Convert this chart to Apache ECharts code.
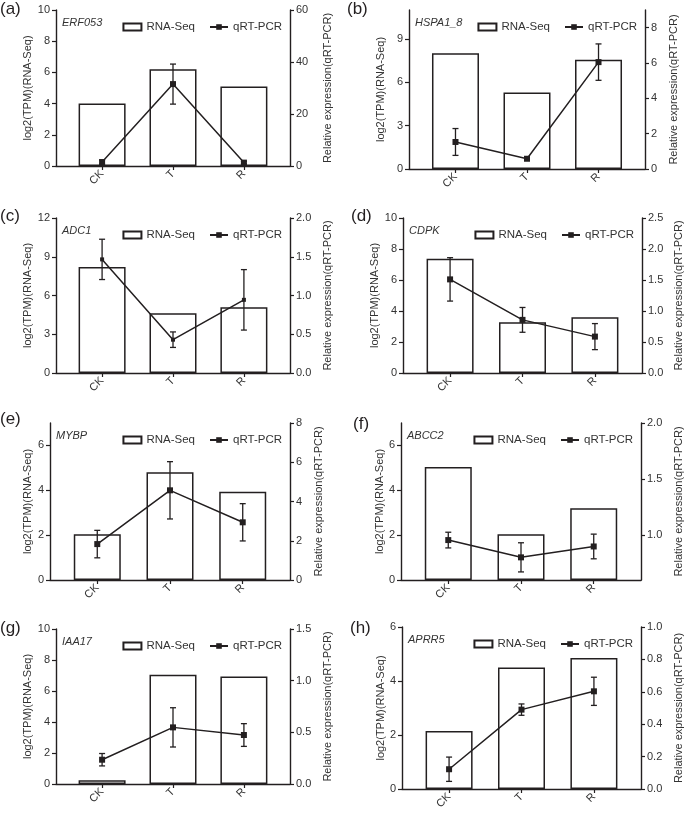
<!DOCTYPE html>
<html>
<head>
<meta charset="utf-8">
<script src="https://cdn.jsdelivr.net/npm/echarts@6.0.0/dist/echarts.min.js"></script>
<style>
html,body{margin:0;padding:0;background:#fff;}
#chart{width:685px;height:813px;}
</style>
</head>
<body>
<div id="chart"></div>
<script>
// ---------- data ----------
const categories = ['CK', 'T', 'R'];
const genes = ['ERF053', 'HSPA1_8', 'ADC1', 'CDPK', 'MYBP', 'ABCC2', 'IAA17', 'APRR5'];
const panelLabels = ['(a)', '(b)', '(c)', '(d)', '(e)', '(f)', '(g)', '(h)'];

// RNA-Seq values (log2 TPM)
const rnaERF053 = [4.0, 6.2, 5.1];
const rnaHSPA1_8 = [8.0, 5.3, 7.55];
const rnaADC1 = [8.2, 4.63, 5.09];
const rnaCDPK = [7.37, 3.28, 3.6];
const rnaMYBP = [2.04, 4.8, 3.94];
const rnaABCC2 = [5.04, 2.04, 3.2];
const rnaIAA17 = [0.24, 7.05, 6.94];
const rnaAPRR5 = [2.15, 4.5, 4.85];

// qRT-PCR relative expression (mean)
const qpcrERF053 = [1.5, 31.5, 1.3];
const qpcrHSPA1_8 = [1.53, 0.58, 6.05];
const qpcrADC1 = [1.466, 0.43, 0.944];
const qpcrCDPK = [1.51, 0.857, 0.587];
const qpcrMYBP = [1.83, 4.57, 2.94];
const qpcrABCC2 = [0.956, 0.802, 0.899];
const qpcrIAA17 = [0.235, 0.548, 0.474];
const qpcrAPRR5 = [0.122, 0.49, 0.603];

// qRT-PCR error (half-length of error bar)
const errERF053 = [0.8, 7.7, 0.5];
const errHSPA1_8 = [0.76, 0.05, 1.03];
const errADC1 = [0.26, 0.1, 0.39];
const errCDPK = [0.35, 0.2, 0.21];
const errMYBP = [0.7, 1.46, 0.95];
const errABCC2 = [0.07, 0.13, 0.11];
const errIAA17 = [0.06, 0.19, 0.11];
const errAPRR5 = [0.075, 0.035, 0.087];

// axis ranges and tick labels
const leftMax = [10, 11, 12, 10, 7, 7, 10, 6];
const leftTicks = [[0,2,4,6,8,10],[0,3,6,9],[0,3,6,9,12],[0,2,4,6,8,10],[0,2,4,6],[0,2,4,6],[0,2,4,6,8,10],[0,2,4,6]];
const rightMin = [0, 0, 0, 0, 0, 0.6, 0, 0];
const rightMax = [60, 9, 2.0, 2.5, 8, 2.0, 1.5, 1.0];
const rightTicks = [[0,20,40,60],[0,2,4,6,8],[0,0.5,1,1.5,2],[0,0.5,1,1.5,2,2.5],[0,2,4,6,8],[1,1.5,2],[0,0.5,1,1.5],[0,0.2,0.4,0.6,0.8,1]];
const rightDecimals = [0, 0, 1, 1, 0, 1, 1, 1];

const rnaAll = [rnaERF053, rnaHSPA1_8, rnaADC1, rnaCDPK, rnaMYBP, rnaABCC2, rnaIAA17, rnaAPRR5];
const qpcrAll = [qpcrERF053, qpcrHSPA1_8, qpcrADC1, qpcrCDPK, qpcrMYBP, qpcrABCC2, qpcrIAA17, qpcrAPRR5];
const errAll = [errERF053, errHSPA1_8, errADC1, errCDPK, errMYBP, errABCC2, errIAA17, errAPRR5];

// ---------- layout ----------
const layout = [
  {l:56, t:10, w:234, h:156},
  {l:409, t:10, w:236, h:159},
  {l:56, t:218, w:234, h:155},
  {l:403, t:218, w:239, h:155},
  {l:50, t:423, w:240, h:157},
  {l:401, t:423, w:240, h:157},
  {l:56, t:629, w:234, h:155},
  {l:402, t:627, w:239, h:162}
];
const leftNameGap = [23, 23, 23, 18, 17, 15, 23, 16];
const rightNameGap = [32, 23, 32, 31, 23, 32, 32, 32];
const labelPos = [[0,1],[347,1],[0,208],[351,208],[0,411],[353,416],[0,620],[350,620]];

const INK = '#231f20';
const FONT = 'Liberation Sans, Arial, Helvetica, sans-serif';
const TXT = '#333';

const grid = [], xAxis = [], yAxis = [], series = [], legend = [], title = [], graphic = [];

function errRender(params, api) {
  const x = api.value(0), y = api.value(1), e = api.value(2);
  const top = api.coord([x, y + e]);
  const bot = api.coord([x, y - e]);
  const hw = 3;
  const st = {stroke: INK, lineWidth: 1.3};
  return {type: 'group', children: [
    {type: 'line', shape: {x1: top[0], y1: top[1], x2: bot[0], y2: bot[1]}, style: st},
    {type: 'line', shape: {x1: top[0] - hw, y1: top[1], x2: top[0] + hw, y2: top[1]}, style: st},
    {type: 'line', shape: {x1: bot[0] - hw, y1: bot[1], x2: bot[0] + hw, y2: bot[1]}, style: st}
  ]};
}

for (let i = 0; i < 8; i++) {
  const L = layout[i];
  grid.push({left: L.l, top: L.t, width: L.w, height: L.h, containLabel: false});
  xAxis.push({
    type: 'value', gridIndex: i, min: -0.65, max: 2.65,
    axisLine: {show: true, onZero: false, lineStyle: {color: INK, width: 1.4}},
    axisTick: {show: true, length: 4, customValues: [0, 1, 2], lineStyle: {color: INK, width: 1.2}},
    axisLabel: {show: true, customValues: [0, 1, 2], rotate: 45, margin: 6,
      formatter: v => categories[Math.round(v)] || '', color: TXT, fontSize: 11, fontFamily: FONT},
    splitLine: {show: false}
  });
  yAxis.push({
    type: 'value', gridIndex: i, position: 'left', min: 0, max: leftMax[i],
    name: 'log2(TPM)(RNA-Seq)', nameLocation: 'middle', nameRotate: 90, nameGap: leftNameGap[i],
    nameTextStyle: {color: TXT, fontSize: 11, fontFamily: FONT},
    axisLine: {show: true, onZero: false, lineStyle: {color: INK, width: 1.4}},
    axisTick: {show: true, length: 4, customValues: leftTicks[i], lineStyle: {color: INK, width: 1.2}},
    axisLabel: {customValues: leftTicks[i], margin: 6, color: TXT, fontSize: 11, fontFamily: FONT},
    splitLine: {show: false}
  });
  const dec = rightDecimals[i];
  yAxis.push({
    type: 'value', gridIndex: i, position: 'right', min: rightMin[i], max: rightMax[i],
    name: 'Relative expression(qRT-PCR)', nameLocation: 'middle', nameRotate: 90, nameGap: rightNameGap[i],
    nameTextStyle: {color: TXT, fontSize: 11, fontFamily: FONT},
    axisLine: {show: true, onZero: false, lineStyle: {color: INK, width: 1.4}},
    axisTick: {show: true, length: 4, customValues: rightTicks[i], lineStyle: {color: INK, width: 1.2}},
    axisLabel: {customValues: rightTicks[i], margin: 6, color: TXT, fontSize: 11, fontFamily: FONT,
      formatter: v => Number(v).toFixed(dec)},
    splitLine: {show: false}
  });
  const symSize = (i === 2) ? 4 : 6;
  series.push({
    name: 'RNA-Seq', type: 'bar', xAxisIndex: i, yAxisIndex: 2 * i,
    data: rnaAll[i].map((v, k) => [k, v]), barWidth: 47,
    itemStyle: {color: '#ffffff', borderColor: INK, borderWidth: 1.5},
    emphasis: {disabled: true}, silent: true, z: 1
  });
  series.push({
    name: 'qRT-PCR', type: 'line', xAxisIndex: i, yAxisIndex: 2 * i + 1,
    data: qpcrAll[i].map((v, k) => [k, v]),
    symbol: 'rect', symbolSize: symSize,
    lineStyle: {color: INK, width: 1.5}, itemStyle: {color: INK},
    emphasis: {disabled: true}, silent: true, z: 4
  });
  series.push({
    name: 'err' + i, type: 'custom', xAxisIndex: i, yAxisIndex: 2 * i + 1,
    data: qpcrAll[i].map((v, k) => [k, v, errAll[i][k]]),
    renderItem: errRender, encode: {x: 0, y: 1}, silent: true, z: 3
  });
  legend.push({
    data: [{name: 'RNA-Seq', icon: 'rect'}, {name: 'qRT-PCR'}],
    right: 685 - (L.l + L.w) + 3, top: L.t + 6,
    itemWidth: 18, itemHeight: 7, itemGap: 14, selectedMode: false,
    textStyle: {color: TXT, fontSize: 11.5, fontFamily: FONT}
  });
  title.push({
    text: genes[i], left: L.l + 6, top: L.t + 7,
    textStyle: {fontStyle: 'italic', fontWeight: 'normal', color: TXT, fontSize: 11, fontFamily: FONT},
    padding: 0
  });
  graphic.push({
    type: 'text', left: labelPos[i][0], top: labelPos[i][1],
    style: {text: panelLabels[i], fill: INK, font: '17px ' + FONT}
  });
}

const chart = echarts.init(document.getElementById('chart'), null, {renderer: 'canvas'});
chart.setOption({
  animation: false,
  backgroundColor: '#fff',
  grid, xAxis, yAxis, series, legend, title, graphic
});
</script>
</body>
</html>
